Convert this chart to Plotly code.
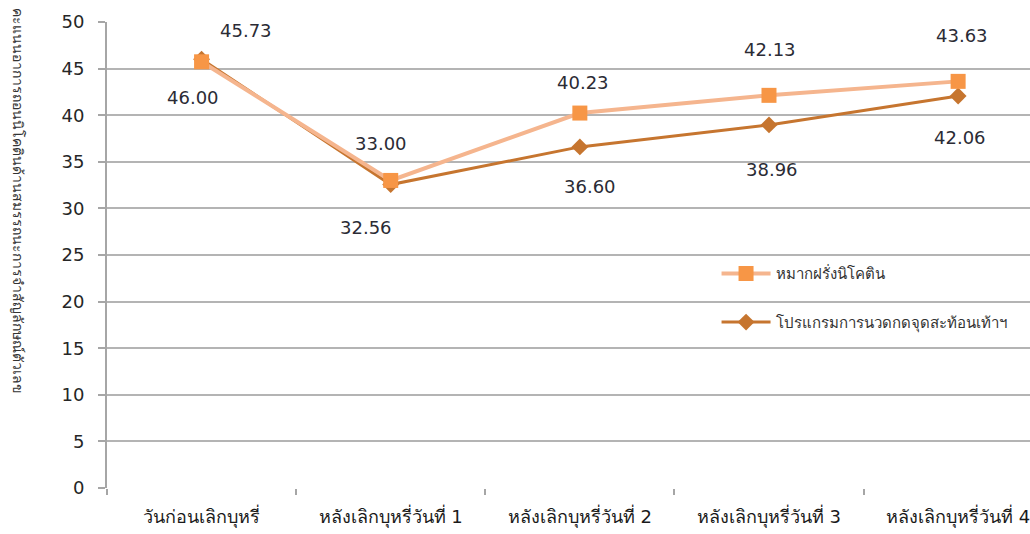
import plotly.graph_objects as go

categories = ["วันก่อนเลิกบุหรี่", "หลังเลิกบุหรี่วันที่ 1", "หลังเลิกบุหรี่วันที่ 2",
              "หลังเลิกบุหรี่วันที่ 3", "หลังเลิกบุหรี่วันที่ 4"]
gum_name = "หมากฝรั่งนิโคติน"
gum_values = [45.73, 33.00, 40.23, 42.13, 43.63]
massage_name = "โปรแกรมการนวดกดจุดสะท้อนเท้าฯ"
massage_values = [46.00, 32.56, 36.60, 38.96, 42.06]
y_title = "คะแนนอาการถอนนิโคตินด้านสมรรถนะการจำสัญลักษณ์ตัวเลข"

# label offsets (pixels) – styling only
gum_shift = [(44, 31), (-10, 37), (3, 31), (1, 46), (4, 46)]
massage_shift = [(-9, -38), (-25, -43), (10, -40), (3, -45), (2, -41)]

FONT = "DejaVu Sans, Tahoma, Noto Sans, sans-serif"
C_GUM_LINE = "#F5B58E"
C_GUM_MARK = "#F79646"
C_MAS = "#C6752F"

fig = go.Figure()
fig.add_trace(go.Scatter(
    x=categories, y=massage_values, name=massage_name, mode="lines+markers",
    line=dict(color=C_MAS, width=3),
    marker=dict(symbol="diamond", size=13, color=C_MAS),
    legendrank=2, legendgroup="g2",
))
fig.add_trace(go.Scatter(
    x=categories, y=gum_values, name=gum_name, mode="lines+markers",
    line=dict(color=C_GUM_LINE, width=4),
    marker=dict(symbol="square", size=15, color=C_GUM_MARK),
    legendrank=1, legendgroup="g1",
))

ann = []
for c, v, (dx, dy) in zip(categories, gum_values, gum_shift):
    ann.append(dict(x=c, y=v, text=f"{v:.2f}", showarrow=False, xshift=dx, yshift=dy,
                    font=dict(family=FONT, size=18, color="#2b2b35")))
for c, v, (dx, dy) in zip(categories, massage_values, massage_shift):
    ann.append(dict(x=c, y=v, text=f"{v:.2f}", showarrow=False, xshift=dx, yshift=dy,
                    font=dict(family=FONT, size=18, color="#2b2b35")))
ann.append(dict(xref="paper", yref="paper", x=-0.0964, y=0.616, xanchor="center", yanchor="middle",
                text=y_title, textangle=90,
                showarrow=False, font=dict(family=FONT, size=14, color="#333333")))

fig.update_layout(
    width=1030, height=534,
    margin=dict(l=107, r=0, t=22, b=46),
    paper_bgcolor="white", plot_bgcolor="white",
    font=dict(family=FONT, color="#262626"),
    annotations=ann,
    legend=dict(x=0.6604, y=0.495, xanchor="left", yanchor="top",
                bgcolor="rgba(0,0,0,0)", font=dict(family=FONT, size=15, color="#333333"),
                tracegroupgap=26, traceorder="grouped", itemwidth=49),
    xaxis=dict(type="category", range=[-0.5, 4.38], tickson="boundaries",
               ticks="outside", ticklen=6, tickcolor="#a6a6a6", tickwidth=2,
               showgrid=False, showline=False, zeroline=False, ticklabelstandoff=16,
               tickfont=dict(family=FONT, size=18, color="#1a1a1a")),
    yaxis=dict(range=[0, 50], dtick=5, tick0=0, showgrid=True, gridcolor="#b4b4b4", gridwidth=1.5,
               showline=True, linecolor="#a6a6a6", linewidth=2,
               ticks="outside", ticklen=7, tickcolor="#a6a6a6", tickwidth=2,
               ticklabelstandoff=10, zeroline=False,
               tickfont=dict(family=FONT, size=18, color="#262626")),
)

fig.write_html("out.html")
